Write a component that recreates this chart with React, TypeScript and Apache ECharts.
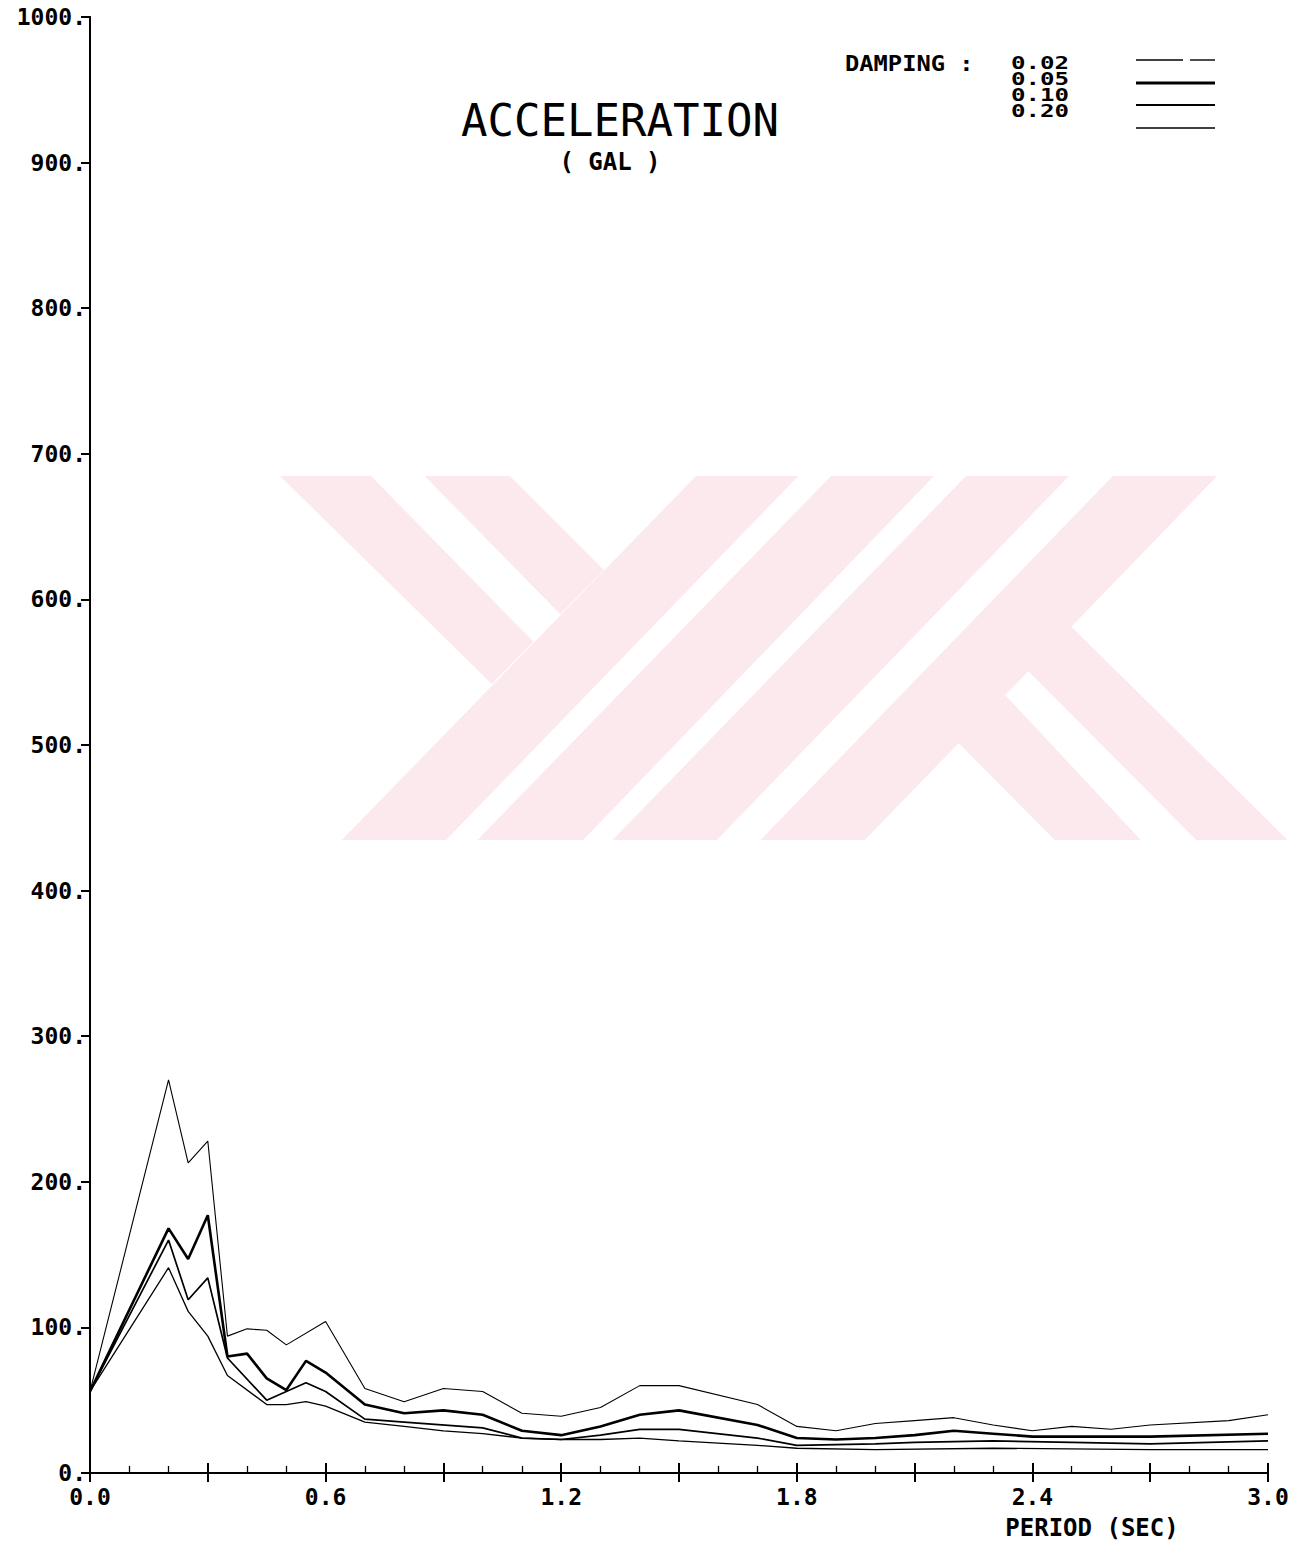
import React, { useEffect, useRef } from 'react';
import * as echarts from 'echarts';

const FONT = '"DejaVu Sans Mono", "Liberation Mono", monospace';

// Damping labels
const dampings = ['0.02', '0.05', '0.10', '0.20'];

// Period (sec) and acceleration (gal) for each damping
const t002 = [0, 0.2, 0.25, 0.3, 0.35, 0.4, 0.45, 0.5, 0.6, 0.7, 0.8, 0.9, 1.0, 1.1, 1.2, 1.3, 1.4, 1.5, 1.7, 1.8, 1.9, 2.0, 2.1, 2.2, 2.3, 2.4, 2.5, 2.6, 2.7, 2.9, 3.0];
const v002 = [56, 270, 213, 228, 94, 99, 98, 88, 104, 58, 49, 58, 56, 41, 39, 45, 60, 60, 47, 32, 29, 34, 36, 38, 33, 29, 32, 30, 33, 36, 40];

const t005 = [0, 0.2, 0.25, 0.3, 0.35, 0.4, 0.45, 0.5, 0.55, 0.6, 0.7, 0.8, 0.9, 1.0, 1.1, 1.2, 1.3, 1.4, 1.5, 1.7, 1.8, 1.9, 2.0, 2.1, 2.2, 2.3, 2.4, 2.7, 3.0];
const v005 = [56, 168, 147, 177, 80, 82, 65, 57, 77, 69, 47, 41, 43, 40, 29, 26, 32, 40, 43, 33, 24, 23, 24, 26, 29, 27, 25, 25, 27];

const t010 = [0, 0.2, 0.25, 0.3, 0.35, 0.45, 0.55, 0.6, 0.7, 0.8, 1.0, 1.1, 1.2, 1.3, 1.4, 1.5, 1.7, 1.8, 2.0, 2.1, 2.3, 2.5, 2.7, 3.0];
const v010 = [56, 160, 119, 134, 79, 50, 62, 56, 37, 35, 31, 24, 23, 26, 30, 30, 24, 19, 20, 21, 22, 21, 20, 22];

const t020 = [0, 0.2, 0.25, 0.3, 0.35, 0.45, 0.5, 0.55, 0.6, 0.7, 0.8, 0.9, 1.0, 1.1, 1.2, 1.3, 1.4, 1.5, 1.7, 1.8, 2.0, 2.3, 2.7, 3.0];
const v020 = [56, 141, 111, 94, 67, 47, 47, 49, 46, 35, 32, 29, 27, 24, 23, 23, 24, 22, 19, 17, 16, 17, 16, 16];

const seriesT = [t002, t005, t010, t020];
const seriesV = [v002, v005, v010, v020];
const lineWidths = [1.1, 2.6, 1.7, 1.3];

// Watermark polygons (background logo)
const PINK = '#fce9ed';
const watermark: number[][][] = [
  [[280, 476], [371, 476], [533.5, 641.7], [491.8, 684]],
  [[424.6, 476], [510, 476], [604, 570], [560.3, 614.3]],
  [[696, 476], [798.4, 476], [446.1, 840], [341.8, 840]],
  [[831, 476], [934, 476], [583.1, 840], [477.4, 840]],
  [[966, 476], [1069.1, 476], [716.8, 840], [612.5, 840]],
  [[1112.8, 476], [1217.2, 476], [864.9, 840], [760.5, 840]],
  [[1005.2, 695], [1140.8, 840], [1054.7, 840], [958.2, 742.7]],
  [[1070.4, 625.7], [1287.6, 840], [1196.3, 840], [1027.3, 670]],
];

export default function App() {
  const ref = useRef<HTMLDivElement>(null);
  useEffect(() => {
    const chart = echarts.init(ref.current!, null, { renderer: 'svg' });
    const axisLine = { show: true, lineStyle: { color: '#000', width: 2 } };
    const graphic: any[] = [];
    watermark.forEach((pts) => {
      graphic.push({ type: 'polygon', z: -10, silent: true, shape: { points: pts }, style: { fill: PINK } });
    });
    graphic.push({
      type: 'text', x: 620, y: 120,
      style: { text: 'ACCELERATION', font: `normal 44px ${FONT}`, fill: '#000', textAlign: 'center', textVerticalAlign: 'middle' },
    });
    graphic.push({
      type: 'text', x: 610, y: 162,
      style: { text: '( GAL )', font: `bold 24px ${FONT}`, fill: '#000', textAlign: 'center', textVerticalAlign: 'middle' },
    });
    graphic.push({
      type: 'text', x: 845, y: 63, scaleX: 1.08,
      style: { text: 'DAMPING :', font: `bold 22px ${FONT}`, fill: '#000', textAlign: 'left', textVerticalAlign: 'middle' },
    });
    // damping values as one stacked block
    graphic.push({
      type: 'text', x: 1011, y: 55, scaleX: 1.42,
      style: {
        text: dampings.join('\n'), font: `bold 17px ${FONT}`, lineHeight: 16,
        fill: '#000', textAlign: 'left', textVerticalAlign: 'top',
      },
    });
    const lineY = [60, 83, 105, 128];
    dampings.forEach((d, i) => {
      if (i === 0) {
        graphic.push({ type: 'line', shape: { x1: 1136, y1: lineY[i], x2: 1183, y2: lineY[i] }, style: { stroke: '#000', lineWidth: 1.4 } });
        graphic.push({ type: 'line', shape: { x1: 1190, y1: lineY[i], x2: 1215, y2: lineY[i] }, style: { stroke: '#000', lineWidth: 1.4 } });
      } else {
        graphic.push({
          type: 'line', shape: { x1: 1136, y1: lineY[i], x2: 1215, y2: lineY[i] },
          style: { stroke: '#000', lineWidth: lineWidths[i] + 0.3 },
        });
      }
    });
    graphic.push({
      type: 'text', x: 1092, y: 1528,
      style: { text: 'PERIOD (SEC)', font: `bold 24px ${FONT}`, fill: '#000', textAlign: 'center', textVerticalAlign: 'middle' },
    });

    chart.setOption({
      animation: false,
      backgroundColor: '#fff',
      grid: { left: 90, right: 24, top: 17, bottom: 69, containLabel: false },
      xAxis: [
        {
          type: 'value', position: 'bottom', min: 0, max: 3, interval: 0.3,
          axisLine,
          axisTick: { show: true, inside: true, length: 10, lineStyle: { color: '#000', width: 2 } },
          minorTick: { show: true, splitNumber: 3, length: 7, lineStyle: { color: '#000', width: 1.3 } },
          splitLine: { show: false },
          minorSplitLine: { show: false },
          axisLabel: {
            margin: 12, color: '#000', fontFamily: FONT, fontWeight: 'bold', fontSize: 23,
            formatter: (v: number) => (Math.round(v * 10) % 6 === 0 ? v.toFixed(1) : ''),
          },
        },
        {
          type: 'value', position: 'top', min: 0, max: 3, interval: 0.3,
          axisLine,
          axisTick: { show: true, inside: true, length: 9, lineStyle: { color: '#000', width: 2 } },
          splitLine: { show: false },
          axisLabel: { show: false },
        },
      ],
      yAxis: [
        {
          type: 'value', position: 'left', min: 0, max: 1000, interval: 100,
          axisLine,
          axisTick: { show: true, inside: false, length: 6, lineStyle: { color: '#000', width: 2 } },
          splitLine: { show: false },
          axisLabel: {
            margin: 4, color: '#000', fontFamily: FONT, fontWeight: 'bold', fontSize: 23,
            formatter: (v: number) => `${v}.`,
          },
        },
        {
          type: 'value', position: 'right', min: 0, max: 1000, interval: 100,
          axisLine,
          axisTick: { show: true, inside: true, length: 9, lineStyle: { color: '#000', width: 2 } },
          splitLine: { show: false },
          axisLabel: { show: false },
        },
      ],
      series: dampings.map((d, i) => ({
        name: d,
        type: 'line',
        xAxisIndex: 0,
        yAxisIndex: 0,
        showSymbol: false,
        symbol: 'none',
        z: 3,
        lineStyle: { color: '#000', width: lineWidths[i] },
        data: seriesT[i].map((t, j) => [t, seriesV[i][j]]),
      })),
      graphic,
    });
    return () => chart.dispose();
  }, []);
  return (
    <div
      ref={ref}
      style={{ position: 'absolute', left: 0, top: 0, width: 1292, height: 1542, background: '#fff' }}
    />
  );
}
